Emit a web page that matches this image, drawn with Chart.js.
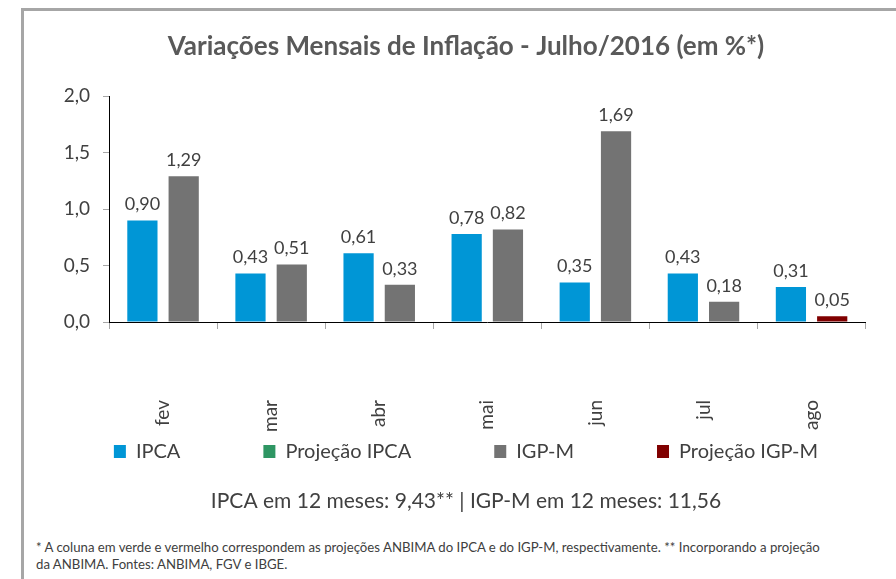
<!DOCTYPE html>
<html>
<head>
<meta charset="utf-8">
<title>Variações Mensais de Inflação</title>
<script src="https://cdn.jsdelivr.net/npm/chart.js@4/dist/chart.umd.min.js"></script>
<style>
html, body { margin:0; padding:0; background:#fff; width:896px; height:579px; overflow:hidden; }
#quadro { position:absolute; left:21px; top:8px; width:888px; height:600px; border-left:3px solid #a6a6a6; border-top:3px solid #a6a6a6; }
#grafico { position:absolute; left:0; top:0; }
#nota { position:absolute; left:12px; top:528px; font-family:Lato, sans-serif; font-size:13.2px; line-height:17px; color:#404040; white-space:nowrap; }
</style>
</head>
<body>
<div id="quadro">
  <canvas id="grafico" width="884" height="512"></canvas>
  <div id="nota">* A coluna em verde e vermelho correspondem as projeções ANBIMA do IPCA e do IGP-M, respectivamente. ** Incorporando a projeção<br>da ANBIMA. Fontes: ANBIMA, FGV e IBGE.</div>
</div>
<script>
// dados (% ao mes)
var meses = ['fev', 'mar', 'abr', 'mai', 'jun', 'jul', 'ago'];
var ipca = [0.90, 0.43, 0.61, 0.78, 0.35, 0.43, 0.31];
var projecaoIpca = [null, null, null, null, null, null, null];
var igpm = [1.29, 0.51, 0.33, 0.82, 1.69, 0.18, null];
var projecaoIgpm = [null, null, null, null, null, null, 0.05];
var ticksY = [0, 0.5, 1.0, 1.5, 2.0];

var titulo = 'Variações Mensais de Inflação - Julho/2016 (em %*)';
var resumo = 'IPCA em 12 meses: 9,43** | IGP-M em 12 meses: 11,56';

var corTexto = '#404040';

function virgula(v, casas){
  return v.toFixed(casas).replace('.', ',');
}

// escreve o valor em cima de cada barra
var rotulosBarras = {
  id: 'rotulosBarras',
  afterDatasetsDraw: function(chart){
    var ctx = chart.ctx;
    ctx.save();
    ctx.font = '18px Lato';
    ctx.fillStyle = corTexto;
    ctx.textAlign = 'center';
    ctx.textBaseline = 'alphabetic';
    chart.data.datasets.forEach(function(ds, i){
      var meta = chart.getDatasetMeta(i);
      meta.data.forEach(function(barra, j){
        var v = ds.data[j];
        if(v === null || v === undefined) return;
        ctx.fillText(virgula(v, 2), barra.x, barra.y - 10);
      });
    });
    ctx.restore();
  }
};

var ctx = document.getElementById('grafico').getContext('2d');

var myChart = new Chart(ctx, {
  type: 'bar',
  data: {
    labels: meses,
    datasets: [
      { label: 'IPCA', data: ipca, backgroundColor: '#0096d6', stack: 'ipca' },
      { label: 'Projeção IPCA', data: projecaoIpca, backgroundColor: '#2e9663', stack: 'ipca' },
      { label: 'IGP-M', data: igpm, backgroundColor: '#737373', stack: 'igpm' },
      { label: 'Projeção IGP-M', data: projecaoIgpm, backgroundColor: '#800000', stack: 'igpm' }
    ]
  },
  options: {
    responsive: false,
    animation: false,
    categoryPercentage: 0.764,
    barPercentage: 0.732,
    layout: { padding: 0 },
    plugins: {
      tooltip: { enabled: false },
      title: {
        display: true,
        text: titulo,
        color: '#595959',
        font: { family: 'Lato', size: 26, weight: 'bold' },
        padding: { top: 20, bottom: 34 }
      },
      legend: {
        position: 'bottom',
        // titulo vazio so para descer a legenda abaixo dos meses
        title: { display: true, text: '', font: { size: 10 }, padding: { top: 24.5, bottom: 0 } },
        labels: {
          color: corTexto,
          font: { family: 'Lato', size: 20 },
          boxWidth: 12,
          boxHeight: 13,
          padding: 83
        }
      },
      subtitle: {
        display: true,
        position: 'bottom',
        text: resumo,
        color: corTexto,
        font: { family: 'Lato', size: 21 },
        padding: { top: 17, bottom: 9.3 }
      }
    },
    scales: {
      x: {
        position: { y: 0 },
        grid: { drawOnChartArea: false, tickLength: 6, color: '#a6a6a6' },
        border: { color: '#000000', width: 1 },
        ticks: {
          color: corTexto,
          font: { family: 'Lato', size: 19 },
          minRotation: 90,
          maxRotation: 90,
          autoSkip: false,
          padding: 72
        }
      },
      y: {
        min: ticksY[0],
        max: ticksY[ticksY.length - 1],
        grid: { drawOnChartArea: false, tickLength: 6, color: '#a6a6a6' },
        border: { color: '#000000', width: 1 },
        ticks: {
          stepSize: ticksY[1] - ticksY[0],
          color: corTexto,
          font: { family: 'Lato', size: 19 },
          padding: 13,
          callback: function(v){ return virgula(v, 1); }
        },
        afterFit: function(scale){ scale.width = 85; }
      },
      // eixo vazio so para guardar a margem da direita
      margem: {
        position: 'right',
        grid: { display: false },
        border: { display: false },
        ticks: { display: false },
        afterFit: function(scale){ scale.width = 23; }
      }
    }
  },
  plugins: [rotulosBarras]
});
</script>
</body>
</html>
